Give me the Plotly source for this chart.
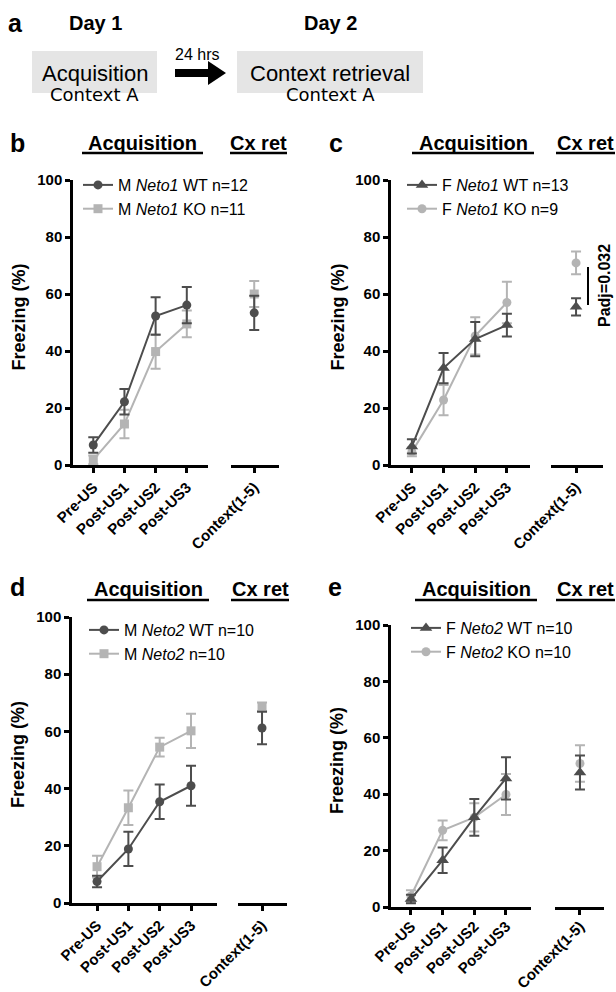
import plotly.graph_objects as go

W, H = 616, 992
FONT = "Liberation Sans, Arial, sans-serif"
DARK = "#4d4d4d"
LIGHT = "#b4b4b4"


def fx(x):
    return x / W


def fy(y):
    return 1 - y / H


# ---------------- data ----------------
phases = ["Pre-US", "Post-US1", "Post-US2", "Post-US3"]
ctx_label = ["Context(1-5)"]
y_ticks = [0, 20, 40, 60, 80, 100]

b_wt = [7.0, 22.2, 52.3, 56.1]
b_wt_err = [2.7, 4.5, 6.6, 6.4]
b_wt_ctx = [53.4]
b_wt_ctx_err = [6.0]
b_ko = [1.8, 14.4, 39.8, 49.5]
b_ko_err = [1.5, 5.0, 6.0, 4.7]
b_ko_ctx = [60.0]
b_ko_ctx_err = [4.6]

c_wt = [6.5, 34.0, 44.2, 49.1]
c_wt_err = [2.5, 5.3, 6.0, 4.0]
c_wt_ctx = [55.5]
c_wt_ctx_err = [3.0]
c_ko = [4.6, 22.8, 45.3, 57.0]
c_ko_err = [1.5, 5.3, 6.5, 7.3]
c_ko_ctx = [70.9]
c_ko_ctx_err = [4.0]

d_wt = [7.5, 18.9, 35.4, 41.0]
d_wt_err = [2.0, 6.0, 6.0, 7.0]
d_wt_ctx = [61.2]
d_wt_ctx_err = [5.7]
d_ko = [12.7, 33.3, 54.5, 60.2]
d_ko_err = [3.8, 6.0, 3.3, 6.0]
d_ko_ctx = [68.6]
d_ko_ctx_err = [1.5]

e_wt = [2.8, 16.6, 31.8, 45.6]
e_wt_err = [1.5, 4.5, 6.5, 7.5]
e_wt_ctx = [47.7]
e_wt_ctx_err = [6.0]
e_ko = [3.9, 27.2, 31.8, 39.9]
e_ko_err = [2.0, 3.5, 5.0, 7.3]
e_ko_ctx = [50.9]
e_ko_ctx_err = [6.5]

b_names = ["M <i>Neto1</i> WT n=12", "M <i>Neto1</i> KO n=11"]
c_names = ["F <i>Neto1</i> WT n=13", "F <i>Neto1</i> KO n=9"]
d_names = ["M <i>Neto2</i> WT n=10", "M <i>Neto2</i> n=10"]
e_names = ["F <i>Neto2</i> WT n=10", "F <i>Neto2</i> KO n=10"]

panels = [
    dict(letter="b", wt=(b_wt, b_wt_err, b_wt_ctx, b_wt_ctx_err), ko=(b_ko, b_ko_err, b_ko_ctx, b_ko_ctx_err),
         names=b_names, sym=("circle", "square"),
         acq=(73, 208), ar=(-0.65, 3.68), ctx=(231, 279), cr=(-0.75, 0.8), y=(465, 180),
         letter_xy=(17, 143), head_y=143, ul_y=153, acq_txt=(82, 203), cx_txt=(230, 287),
         ytitle_x=18, legend_xy=(78, 168), standoff=0),
    dict(letter="c", wt=(c_wt, c_wt_err, c_wt_ctx, c_wt_ctx_err), ko=(c_ko, c_ko_err, c_ko_ctx, c_ko_ctx_err),
         names=c_names, sym=("triangle-up", "circle"),
         acq=(391, 530), ar=(-0.66, 3.73), ctx=(551, 603), cr=(-0.79, 0.85), y=(465, 180),
         letter_xy=(336, 143), head_y=143, ul_y=153, acq_txt=(412, 534), cx_txt=(556, 615),
         ytitle_x=337, legend_xy=(402, 168), standoff=0),
    dict(letter="d", wt=(d_wt, d_wt_err, d_wt_ctx, d_wt_ctx_err), ko=(d_ko, d_ko_err, d_ko_ctx, d_ko_ctx_err),
         names=d_names, sym=("circle", "square"),
         acq=(72, 217), ar=(-0.8, 3.83), ctx=(238, 287), cr=(-0.77, 0.8), y=(903, 617),
         letter_xy=(17, 587), head_y=589, ul_y=600, acq_txt=(87, 209), cx_txt=(231, 289),
         ytitle_x=18, legend_xy=(84, 613), standoff=0),
    dict(letter="e", wt=(e_wt, e_wt_err, e_wt_ctx, e_wt_ctx_err), ko=(e_ko, e_ko_err, e_ko_ctx, e_ko_ctx_err),
         names=e_names, sym=("triangle-up", "circle"),
         acq=(391, 531), ar=(-0.63, 3.79), ctx=(555, 604), cr=(-0.79, 0.76), y=(907, 625),
         letter_xy=(335, 587), head_y=589, ul_y=600, acq_txt=(415, 537), cx_txt=(556, 615),
         ytitle_x=337, legend_xy=(406, 611), standoff=-3),
]

fig = go.Figure()
layout = dict(width=W, height=H, margin=dict(l=0, r=0, t=0, b=0, autoexpand=False), template="none",
              paper_bgcolor="white", plot_bgcolor="white", font=dict(family=FONT, color="black"),
              showlegend=True)
annotations = []
shapes = []

for i, p in enumerate(panels):
    xa = 2 * i + 1
    xc = 2 * i + 2
    yn = i + 1
    xa_name = "xaxis" if xa == 1 else f"xaxis{xa}"
    xa_ref = "x" if xa == 1 else f"x{xa}"
    xc_name = f"xaxis{xc}"
    xc_ref = f"x{xc}"
    y_name = "yaxis" if yn == 1 else f"yaxis{yn}"
    y_ref = "y" if yn == 1 else f"y{yn}"
    leg = "legend" if i == 0 else f"legend{i + 1}"

    axis_common = dict(showline=True, linewidth=2.5, linecolor="black", ticks="outside", ticklen=5,
                       tickwidth=2.5, tickcolor="black", showgrid=False, zeroline=False, automargin=False)
    xfont = dict(family=FONT, size=15, color="black", weight=700)
    yfont = dict(family=FONT, size=15, color="black", weight=700)
    layout[xa_name] = dict(domain=[fx(p["acq"][0]), fx(p["acq"][1])], range=list(p["ar"]), anchor=y_ref,
                           tickvals=list(range(len(phases))), ticktext=phases, tickangle=-45,
                           ticklabelstandoff=p["standoff"], tickfont=xfont, **axis_common)
    layout[xc_name] = dict(domain=[fx(p["ctx"][0]), fx(p["ctx"][1])], range=list(p["cr"]), anchor=y_ref,
                           tickvals=[0], ticktext=ctx_label, tickangle=-45,
                           ticklabelstandoff=p["standoff"], tickfont=xfont, **axis_common)
    layout[y_name] = dict(domain=[fy(p["y"][0]), fy(p["y"][1])], range=[0, 100], anchor=xa_ref,
                          tickvals=y_ticks, tickfont=yfont, **axis_common)

    groups = [("ko", LIGHT, p["sym"][1], p["names"][1], 2), ("wt", DARK, p["sym"][0], p["names"][0], 1)]
    for key, col, sym, name, rank in groups:
        vals, errs, cv, ce = p[key]
        msize = 11 if sym == "triangle-up" else 9
        fig.add_trace(go.Scatter(
            x=list(range(len(phases))), y=vals, xaxis=xa_ref, yaxis=y_ref,
            mode="lines+markers", name=name, legend=leg, legendrank=rank,
            line=dict(color=col, width=2), marker=dict(symbol=sym, size=msize, color=col),
            error_y=dict(type="data", array=errs, visible=True, color=col, thickness=2, width=5),
            cliponaxis=False))
        fig.add_trace(go.Scatter(
            x=[0], y=cv, xaxis=xc_ref, yaxis=y_ref, mode="markers", showlegend=False,
            marker=dict(symbol=sym, size=msize, color=col),
            error_y=dict(type="data", array=ce, visible=True, color=col, thickness=2, width=5),
            cliponaxis=False))

    layout[leg] = dict(x=fx(p["legend_xy"][0]), y=fy(p["legend_xy"][1]), xanchor="left", yanchor="top",
                       bgcolor="rgba(0,0,0,0)", font=dict(family=FONT, size=16, color="black"),
                       itemsizing="trace", tracegroupgap=0)

    # panel letter
    annotations.append(dict(text=f"<b>{p['letter']}</b>", x=fx(p["letter_xy"][0]), y=fy(p["letter_xy"][1]),
                            xref="paper", yref="paper", showarrow=False, xanchor="center", yanchor="middle",
                            font=dict(family=FONT, size=25, color="black")))
    # headers
    for (x0, x1), txt in [(p["acq_txt"], "Acquisition"), (p["cx_txt"], "Cx ret")]:
        annotations.append(dict(text=f"<b>{txt}</b>", x=fx((x0 + x1) / 2), y=fy(p["head_y"]), xref="paper",
                                yref="paper", showarrow=False, xanchor="center", yanchor="middle",
                                font=dict(family=FONT, size=20, color="black")))
        shapes.append(dict(type="line", xref="paper", yref="paper", x0=fx(x0), x1=fx(x1),
                           y0=fy(p["ul_y"]), y1=fy(p["ul_y"]), line=dict(color="black", width=2.5)))
    # y title
    annotations.append(dict(text="<b>Freezing (%)</b>", x=fx(p["ytitle_x"]), y=fy((p["y"][0] + p["y"][1]) / 2 - 5),
                            xref="paper", yref="paper", showarrow=False, textangle=-90,
                            xanchor="center", yanchor="middle", font=dict(family=FONT, size=18, color="black")))

# padj annotation in panel c
shapes.append(dict(type="line", xref="paper", yref="paper", x0=fx(588), x1=fx(588), y0=fy(267), y1=fy(305),
                   line=dict(color="black", width=2)))
annotations.append(dict(text="<b>Padj=0.032</b>", x=fx(604), y=fy(286), xref="paper", yref="paper",
                        showarrow=False, textangle=-90, xanchor="center", yanchor="middle",
                        font=dict(family=FONT, size=16, color="black")))


# ---------------- panel a (schematic) ----------------
def center_note(text, x, y, font):
    return dict(text=text, x=fx(x), y=fy(y), xref="paper", yref="paper", showarrow=False,
                xanchor="center", yanchor="middle", font=font)


annotations.append(center_note("<b>a</b>", 15, 23, dict(family=FONT, size=25, color="black")))
for txt, xc in [("Day 1", 95), ("Day 2", 330)]:
    annotations.append(center_note(f"<b>{txt}</b>", xc, 23, dict(family=FONT, size=20, color="black")))
for (x0, x1), txt in [((32, 157), "Acquisition"), ((237, 423), "Context retrieval")]:
    shapes.append(dict(type="rect", xref="paper", yref="paper", x0=fx(x0), x1=fx(x1), y0=fy(93), y1=fy(51),
                       fillcolor="#e5e5e5", line=dict(width=0), layer="below"))
    annotations.append(center_note(txt, (x0 + x1) / 2, 73, dict(family=FONT, size=22, color="black")))
    annotations.append(center_note("Context A", (x0 + x1) / 2, 95,
                                   dict(family="DejaVu Sans", size=18, color="black")))
annotations.append(center_note("24 hrs", 197, 54,
                               dict(family="Liberation Sans Narrow, Liberation Sans, Arial", size=16,
                                    color="black")))
ay = 73
arrow_path = (f"M {fx(175)} {fy(ay - 4)} L {fx(208)} {fy(ay - 4)} L {fx(208)} {fy(ay - 12)} "
              f"L {fx(226)} {fy(ay)} L {fx(208)} {fy(ay + 12)} L {fx(208)} {fy(ay + 4)} "
              f"L {fx(175)} {fy(ay + 4)} Z")
shapes.append(dict(type="path", xref="paper", yref="paper", path=arrow_path, fillcolor="black",
                   line=dict(width=0)))

layout["annotations"] = annotations
layout["shapes"] = shapes
fig.update_layout(**layout)
fig.write_html("out.html", config={"displayModeBar": False},
               post_script="document.body.style.margin='0px';document.body.style.overflow='hidden';")
